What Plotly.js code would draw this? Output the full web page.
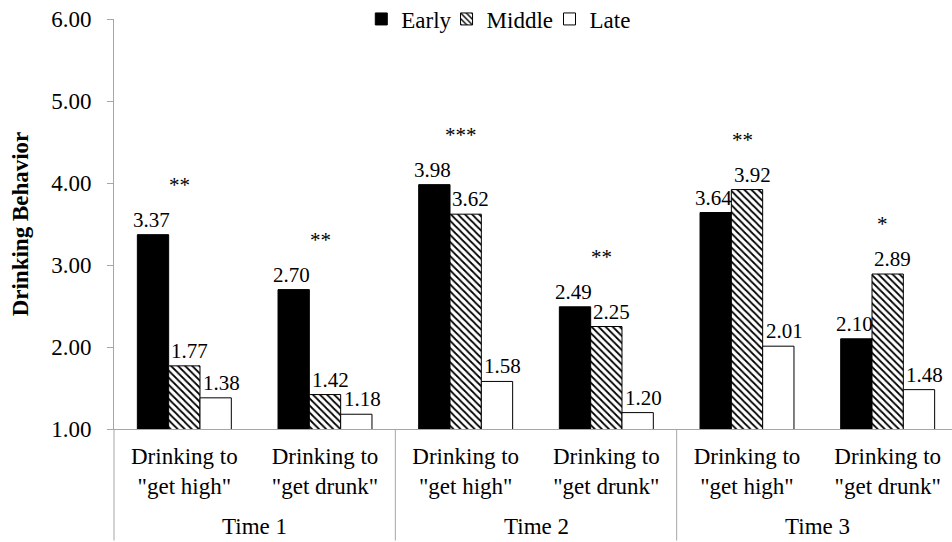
<!DOCTYPE html>
<html>
<head>
<meta charset="utf-8">
<script src="https://cdn.plot.ly/plotly-3.0.1.min.js"></script>
<style>html,body{margin:0;padding:0;background:#fff;overflow:hidden;}#chart{width:958px;height:542px;}</style>
</head>
<body>
<div id="chart"></div>
<script>
// ---- data ----
var timeLabels = ["Time 1", "Time 2", "Time 3"];
var motives = ['Drinking to<br>"get high"', 'Drinking to<br>"get drunk"',
               'Drinking to<br>"get high"', 'Drinking to<br>"get drunk"',
               'Drinking to<br>"get high"', 'Drinking to<br>"get drunk"'];
var seriesNames = ["Early", "Middle", "Late"];
var early  = [3.37, 2.70, 3.98, 2.49, 3.64, 2.10];
var middle = [1.77, 1.42, 3.62, 2.25, 3.92, 2.89];
var late   = [1.38, 1.18, 1.58, 1.20, 2.01, 1.48];
var sigMarks = ["**", "**", "***", "**", "**", "*"];
var yTickVals = [1, 2, 3, 4, 5, 6];

// ---- style ----
var FONT = "'Liberation Serif', 'Times New Roman', Times, serif";
var GRAY = "#a6a6a6";
var W = 958, H = 542, ML = 114, MR = 0, MT = 19, MB = 113;
var BARGAP = 0.332;
var idx = motives.map(function (_, i) { return i; });
var series = [early, middle, late];
var markers = [
  {color: "#000", line: {color: "#000", width: 1}},
  {color: "#fff", line: {color: "#000", width: 1},
   pattern: {shape: "\\", fgcolor: "#000", bgcolor: "#fff", size: 5, solidity: 0.35}},
  {color: "#fff", line: {color: "#000", width: 1}}
];
var legendIds = ["legend", "legend2", "legend3"];
var legendX = [0.293, 0.394, 0.516];
var labelNudge = [-2, 5, 6];

var traces = series.map(function (vals, k) {
  return {
    type: "bar", name: seriesNames[k], x: idx, y: vals,
    marker: markers[k], legend: legendIds[k], hoverinfo: "skip"
  };
});

var plotW = W - ML - MR;
var barPx = (plotW / motives.length) * (1 - BARGAP) / series.length;

var annotations = [];
series.forEach(function (vals, k) {
  vals.forEach(function (v, i) {
    annotations.push({
      xref: "x", yref: "y", x: idx[i], y: v,
      xshift: (k - 1) * barPx + labelNudge[k], yshift: 1,
      xanchor: "center", yanchor: "bottom",
      text: v.toFixed(2), showarrow: false,
      font: {family: FONT, size: 21, color: "#000"}
    });
  });
});
sigMarks.forEach(function (s, i) {
  annotations.push({
    xref: "x", yref: "y", x: idx[i],
    y: Math.max(early[i], middle[i], late[i]),
    yanchor: "bottom", xanchor: "center",
    xshift: -5, yshift: 36,
    text: s, showarrow: false,
    font: {family: FONT, size: 21, color: "#000"}
  });
});
timeLabels.forEach(function (t, g) {
  annotations.push({
    xref: "paper", yref: "paper",
    x: (g + 0.5) / timeLabels.length, y: -0.239,
    xanchor: "center", yanchor: "middle",
    text: t, showarrow: false,
    font: {family: FONT, size: 23, color: "#000"}
  });
});

var shapes = [];
for (var g = 0; g <= timeLabels.length; g++) {
  shapes.push({
    type: "line", xref: "paper", yref: "paper",
    x0: g / timeLabels.length, x1: g / timeLabels.length, y0: 0, y1: -0.272,
    line: {color: GRAY, width: 1}
  });
}

var layout = {
  width: W, height: H,
  margin: {l: ML, r: MR, t: MT, b: MB, pad: 0, autoexpand: false},
  paper_bgcolor: "#fff", plot_bgcolor: "#fff",
  font: {family: FONT, size: 23, color: "#000"},
  barmode: "group",
  bargap: BARGAP, bargroupgap: 0,
  showlegend: true,
  xaxis: {
    range: [-0.5, motives.length - 0.5],
    tickmode: "array", tickvals: idx, ticktext: motives,
    showline: true, linecolor: GRAY, linewidth: 1,
    ticks: "", showgrid: false, zeroline: false,
    ticklabelstandoff: 6,
    tickfont: {family: FONT, size: 23, color: "#000"},
    automargin: false
  },
  yaxis: {
    range: [1, 6], tickvals: yTickVals, tickformat: ".2f",
    showline: true, linecolor: GRAY, linewidth: 1,
    ticks: "outside", ticklen: 6, tickcolor: GRAY,
    ticklabelstandoff: 11,
    showgrid: false, zeroline: false,
    tickfont: {family: FONT, size: 23, color: "#000"},
    title: {text: "<b>Drinking Behavior</b>", font: {family: FONT, size: 23, color: "#000"}, standoff: 16},
    automargin: false
  },
  annotations: annotations,
  shapes: shapes
};
legendIds.forEach(function (id, k) {
  layout[id] = {
    orientation: "h", x: legendX[k], xanchor: "left", y: 1.0, yanchor: "middle",
    font: {family: FONT, size: 23, color: "#000"},
    bgcolor: "rgba(0,0,0,0)", itemclick: false
  };
});

Plotly.newPlot("chart", traces, layout, {displayModeBar: false, staticPlot: true});
</script>
</body>
</html>
